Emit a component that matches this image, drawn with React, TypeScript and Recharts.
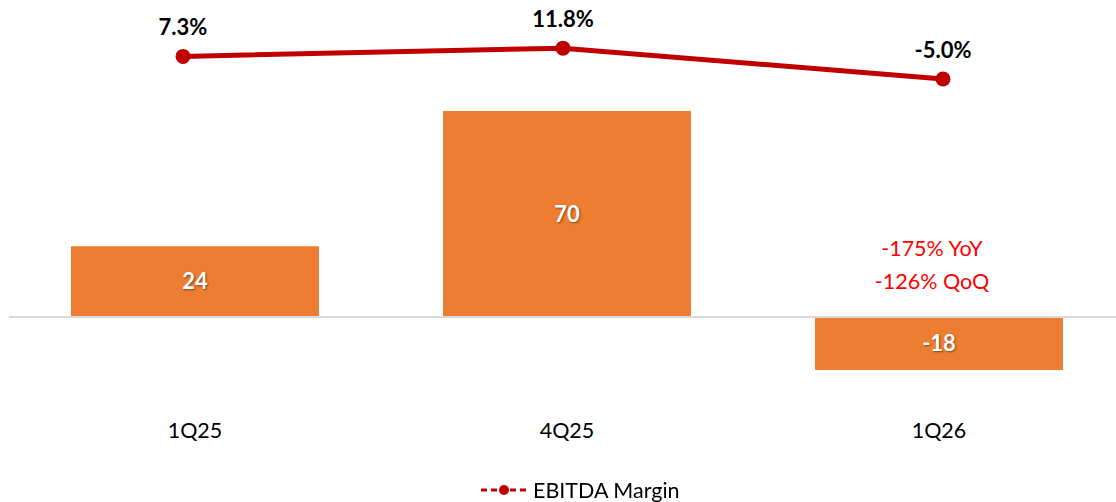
import React from 'react';
import {
  ComposedChart,
  Bar,
  Line,
  XAxis,
  YAxis,
  ReferenceLine,
  ReferenceDot,
  LabelList,
  Legend,
} from 'recharts';

const quarters = ['1Q25', '4Q25', '1Q26'];
const ebitda = [24, 70, -18];
const ebitdaMargin = [7.3, 11.8, -5.0];
const marginLabels = ['7.3%', '11.8%', '-5.0%'];
const annotationLines = ['-175% YoY', '-126% QoQ'];
const annotationQuarter = '1Q26';

const data = quarters.map((q, i) => ({
  quarter: q,
  ebitda: ebitda[i],
  margin: ebitdaMargin[i],
  marginLabel: marginLabels[i],
}));

const FONT = 'Lato, "Open Sans", sans-serif';
const BAR_COLOR = '#ED7D31';
const LINE_COLOR = '#C00000';

const Annotation = (props: any) => {
  const vb = props.viewBox || {};
  const cx = vb.x + (vb.width || 0) / 2;
  const cy = vb.y + (vb.height || 0) / 2;
  return (
    <text
      x={cx - 7}
      y={cy}
      textAnchor="middle"
      fill="#FF0000"
      fontFamily={FONT}
      fontSize={21.5}
    >
      <tspan x={cx - 7} y={cy - 61}>{annotationLines[0]}</tspan>
      <tspan x={cx - 7} y={cy - 28}>{annotationLines[1]}</tspan>
    </text>
  );
};

const renderLegend = () => (
  <div
    style={{
      display: 'flex',
      alignItems: 'center',
      height: 24,
      fontFamily: FONT,
      fontSize: 21.5,
      color: '#000',
      whiteSpace: 'nowrap',
    }}
  >
    <svg width={46} height={24}>
      <line x1={0} y1={12} x2={17} y2={12} stroke={LINE_COLOR} strokeWidth={3} strokeDasharray="6 4" />
      <line x1={29} y1={12} x2={46} y2={12} stroke={LINE_COLOR} strokeWidth={3} strokeDasharray="6 4" />
      <circle cx={23} cy={12} r={5} fill={LINE_COLOR} />
    </svg>
    <span style={{ marginLeft: 6 }}>EBITDA Margin</span>
  </div>
);

export default function App() {
  return (
    <div style={{ position: 'fixed', left: 0, top: 0, background: '#fff' }}>
      <ComposedChart
        width={1126}
        height={502}
        data={data}
        margin={{ top: 11, right: 1, bottom: 0, left: 9 }}
      >
        <XAxis
          xAxisId="bar"
          dataKey="quarter"
          axisLine={false}
          tickLine={false}
          tickMargin={0}
          height={61}
          tick={{ fill: '#000', fontSize: 21.5, fontFamily: FONT }}
        />
        <XAxis
          xAxisId="line"
          dataKey="quarter"
          scale="point"
          padding={{ left: 174, right: 182 }}
          hide
        />
        <YAxis yAxisId="bar" domain={[-34, 104]} hide />
        <YAxis yAxisId="line" domain={[-189.3, 32.05]} hide />
        <ReferenceLine xAxisId="bar" yAxisId="bar" y={0} stroke="#D9D9D9" strokeWidth={2} />
        <Bar
          xAxisId="bar"
          yAxisId="bar"
          dataKey="ebitda"
          fill={BAR_COLOR}
          barSize={248}
          isAnimationActive={false}
        >
          <LabelList
            dataKey="ebitda"
            position="center"
            fill="#fff"
            fontSize={22}
            fontWeight="bold"
            fontFamily={FONT}
            style={{ textShadow: '1px 1px 2px rgba(0,0,0,0.45)' }}
          />
        </Bar>
        <Line
          xAxisId="line"
          yAxisId="line"
          dataKey="margin"
          type="linear"
          stroke={LINE_COLOR}
          strokeWidth={5}
          dot={{ r: 7.5, fill: LINE_COLOR, stroke: 'none' }}
          activeDot={false}
          isAnimationActive={false}
        >
          <LabelList
            dataKey="marginLabel"
            position="top"
            offset={21}
            fill="#000"
            fontSize={22}
            fontWeight="bold"
            fontFamily={FONT}
          />
        </Line>
        <ReferenceDot
          xAxisId="bar"
          yAxisId="bar"
          x={annotationQuarter}
          y={0}
          r={0}
          fill="none"
          stroke="none"
          label={<Annotation />}
        />
        <Legend
          verticalAlign="bottom"
          content={renderLegend}
          wrapperStyle={{ left: 481, bottom: 0, width: 240, height: 24 }}
        />
      </ComposedChart>
    </div>
  );
}
